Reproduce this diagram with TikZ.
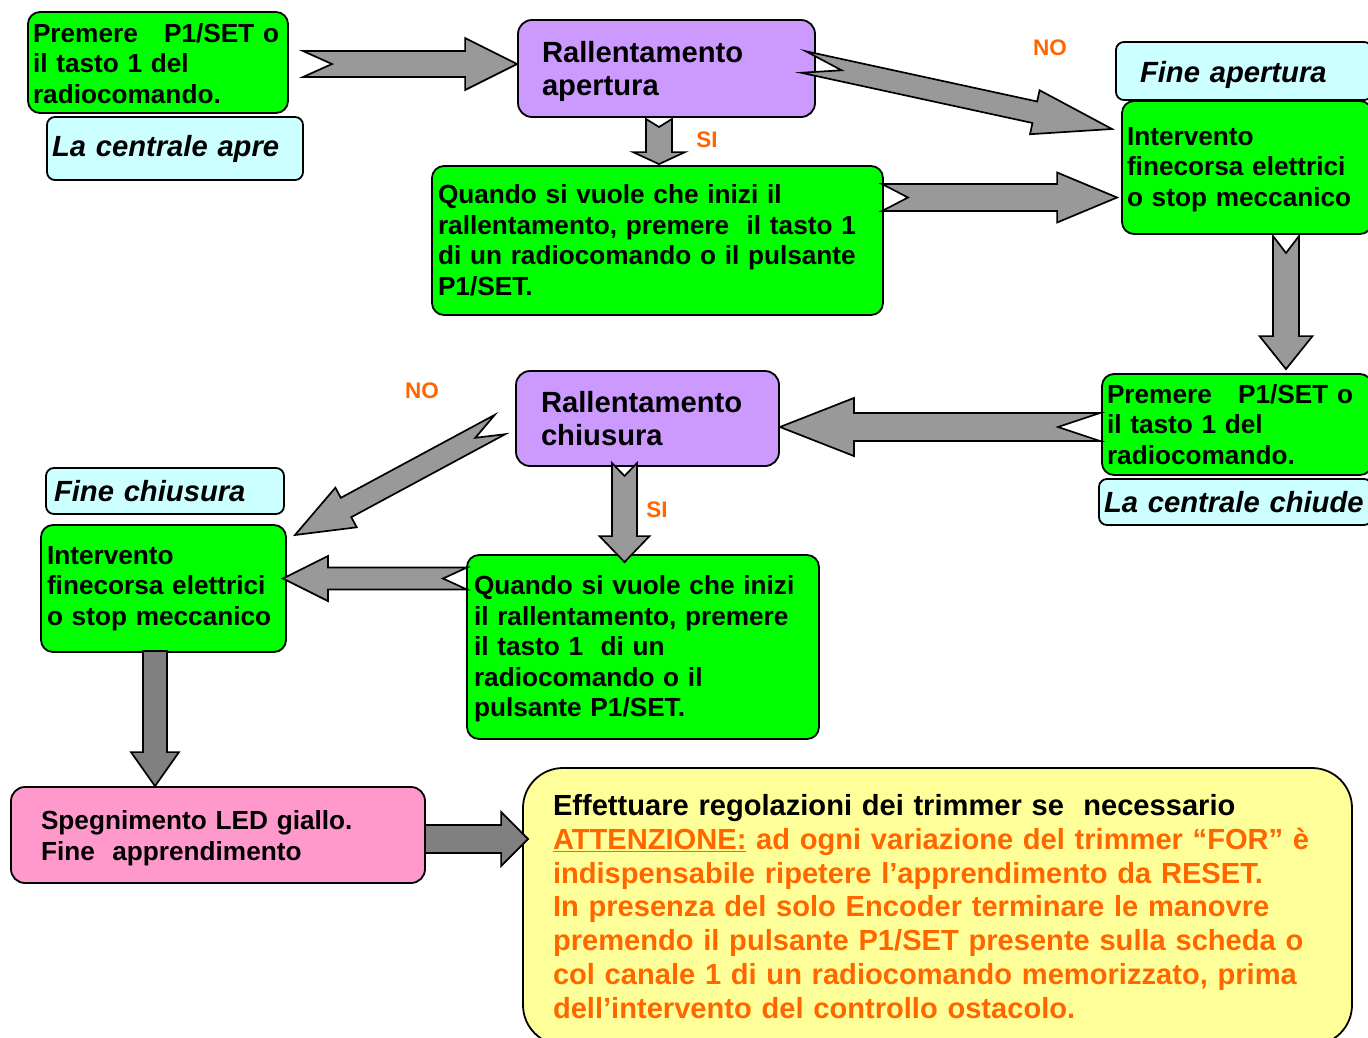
\documentclass[tikz,border=0pt]{standalone}
\usepackage{fontspec}
\setmainfont{Liberation Sans}
\usetikzlibrary{calc}
\definecolor{boxgreen}{HTML}{00FF00}
\definecolor{boxpurple}{HTML}{CC99FF}
\definecolor{boxcyan}{HTML}{CCFFFF}
\definecolor{boxpink}{HTML}{FF99CC}
\definecolor{boxyellow}{HTML}{FFFF99}
\definecolor{txtorange}{HTML}{FF6600}
\definecolor{arrowgrey}{HTML}{999999}
\definecolor{arrowdark}{HTML}{808080}
% #1 fill, #2 tail, #3 tip, #4 shaft half width, #5 head half width, #6 head length, #7 notch depth
\newcommand\blockarrow[7][arrowgrey]{%
  \filldraw[barrow,fill=#1]
    ($(#2)!#4!90:(#3)$) -- ($(#2)!#7!(#3)$) -- ($(#2)!#4!-90:(#3)$)
    -- ($(#3)!#6!(#2)!#4!90:(#2)$) -- ($(#3)!#6!(#2)!#5!90:(#2)$)
    -- (#3)
    -- ($(#3)!#6!(#2)!#5!-90:(#2)$) -- ($(#3)!#6!(#2)!#4!-90:(#2)$)
    -- cycle;}
\newcommand\lift[1]{\rule{0pt}{#1}}
\tikzset{
  barrow/.style={draw=black, line width=1.7pt, line join=miter},
  box/.style={draw=black, line width=1.8pt, align=left, inner ysep=0pt},
  smallfont/.style={font=\fontsize{26.2}{30.5}\selectfont\bfseries},
  bigfont/.style={font=\fontsize{29.2}{33}\selectfont\bfseries},
  gbox/.style={box, smallfont, fill=boxgreen, rounded corners=12pt},
  pbox/.style={box, bigfont, fill=boxpurple, rounded corners=14pt},
  cbox/.style={box, font=\fontsize{29.2}{33}\selectfont\bfseries\itshape, fill=boxcyan, rounded corners=8pt},
  pkbox/.style={box, smallfont, fill=boxpink, rounded corners=14pt},
  ybox/.style={box, font=\fontsize{29.1}{33.7}\selectfont\bfseries, fill=boxyellow, rounded corners=40pt},
  lbl/.style={text=txtorange, font=\fontsize{22.5}{26}\selectfont\bfseries, inner sep=0pt},
}
\begin{document}
\begin{tikzpicture}[x=1pt,y=-1pt]
\useasboundingbox (0,0) rectangle (1368,1037);
\fill[white] (0,0) rectangle (1368,1037);

% boxes
\node[gbox, minimum width=260pt, minimum height=101pt, inner xsep=5pt, text width=250pt] (a1) at (158,62.5)
  {\lift{21pt}Premere\ \ \ P1/SET o\\il tasto 1 del\\radiocomando.};
\node[cbox, minimum width=256pt, minimum height=63pt, inner xsep=5pt, text width=246pt] (lca) at (175,148.5)
  {\lift{23pt}La centrale apre};
\node[pbox, minimum width=297pt, minimum height=97pt, inner xsep=24pt, text width=249pt] (ra) at (666.5,68.5)
  {\lift{27.5pt}Rallentamento\\apertura};
\node[gbox, minimum width=451pt, minimum height=149pt, inner xsep=6pt, text width=439pt] (q1) at (657.5,240.5)
  {Quando si vuole che inizi il\\rallentamento, premere\ \ il tasto 1\\di un radiocomando o il pulsante\\P1/SET.};
\node[cbox, minimum width=256pt, minimum height=58pt, inner xsep=24pt, text width=208pt] (fa) at (1244,71)
  {\lift{29.5pt}Fine apertura};
\node[gbox, minimum width=250pt, minimum height=133pt, inner xsep=5pt, text width=240pt] (i1) at (1247,167.5)
  {\lift{22pt}Intervento\\finecorsa elettrici\\o stop meccanico};
\node[gbox, minimum width=270pt, minimum height=101pt, inner xsep=5pt, text width=260pt] (p2) at (1237,424.5)
  {Premere\ \ \ P1/SET o\\il tasto 1 del\\radiocomando.};
\node[cbox, minimum width=273pt, minimum height=46pt, inner xsep=5pt, text width=263pt] (lcc) at (1235.5,502)
  {La centrale chiude};
\node[pbox, minimum width=263pt, minimum height=95pt, inner xsep=25pt, text width=213pt] (rc) at (647.5,418.5)
  {Rallentamento\\chiusura};
\node[cbox, minimum width=238pt, minimum height=46pt, inner xsep=8pt, text width=222pt] (fc) at (165,491)
  {Fine chiusura};
\node[gbox, minimum width=245pt, minimum height=127pt, inner xsep=6pt, text width=233pt] (i2) at (163.5,588.5)
  {Intervento\\finecorsa elettrici\\o stop meccanico};
\node[gbox, minimum width=352pt, minimum height=184pt, inner xsep=7pt, text width=338pt] (q2) at (643,647)
  {\lift{23pt}Quando si vuole che inizi\\il rallentamento, premere\\il tasto 1\ \ di un\\radiocomando o il\\pulsante P1/SET.};
\node[pkbox, minimum width=414pt, minimum height=96pt, inner xsep=30pt, text width=354pt] (sp) at (218,835)
  {\lift{25pt}Spegnimento LED giallo.\\Fine\ \ apprendimento};
\node[ybox, minimum width=829pt, minimum height=277pt, inner xsep=30pt, text width=769pt] (yb) at (937.5,906.5)
  {Effettuare regolazioni dei trimmer se\ \ necessario\\
   \color{txtorange}\underline{ATTENZIONE:} ad ogni variazione del trimmer “FOR” è\\
   indispensabile ripetere l’apprendimento da RESET.\\
   In presenza del solo Encoder terminare le manovre\\
   premendo il pulsante P1/SET presente sulla scheda o\\
   col canale 1 di un radiocomando memorizzato, prima\\
   dell’intervento del controllo ostacolo.};

% labels
\node[lbl] (no1) at (1050,48) {NO};
\node[lbl] (si1) at (707,140) {SI};
\node[lbl] (no2) at (422,391) {NO};
\node[lbl] (si2) at (657,510) {SI};

% arrow end points
\coordinate (t1) at (303,64);
\coordinate (h1) at (ra.west |- t1);
\coordinate (t2) at (803.5,62);
\coordinate (h2) at (1112,129);
\coordinate (t3) at (659,119);
\coordinate (h3) at ($(t3 |- q1.north)+(0,-1)$);
\coordinate (t4) at (882,197.5);
\coordinate (h4) at ($(i1.west |- t4)+(-4,0)$);
\coordinate (t5) at (1286,236);
\coordinate (h5) at ($(t5 |- p2.north)+(0,-4)$);
\coordinate (t6) at (1100,427);
\coordinate (h6) at (rc.east |- t6);
\coordinate (t7) at (500,424.5);
\coordinate (h7) at (295,535);
\coordinate (t8) at (624.5,463);
\coordinate (h8) at ($(t8 |- q2.north)+(0,8)$);
\coordinate (t9) at (467,578.5);
\coordinate (h9) at ($(i2.east |- t9)+(-4,0)$);
\coordinate (t10) at (155,651);
\coordinate (h10) at (t10 |- sp.north);
\coordinate (t11) at (425,839);
\coordinate (h11) at ($(yb.west |- t11)+(6,0)$);

% block arrows
\blockarrow{t1}{h1}{13pt}{26pt}{52pt}{29pt}
\blockarrow{t2}{h2}{11pt}{22.5pt}{79pt}{39pt}
\blockarrow{t3}{h3}{13pt}{26pt}{12pt}{8pt}
\blockarrow{t4}{h4}{13.5pt}{25pt}{60pt}{26pt}
\blockarrow{t5}{h5}{13pt}{26.5pt}{33pt}{17pt}
\blockarrow{t6}{h6}{14pt}{29pt}{74pt}{42pt}
\blockarrow{t7}{h7}{11pt}{22.5pt}{58pt}{28pt}
\blockarrow{t8}{h8}{12.5pt}{25pt}{26pt}{13pt}
\blockarrow{t9}{h9}{11pt}{22.5pt}{45pt}{24pt}
\blockarrow[arrowdark]{t10}{h10}{12pt}{24pt}{34pt}{0pt}
\blockarrow[arrowdark]{t11}{h11}{14pt}{27pt}{27pt}{0pt}
\end{tikzpicture}
\end{document}
